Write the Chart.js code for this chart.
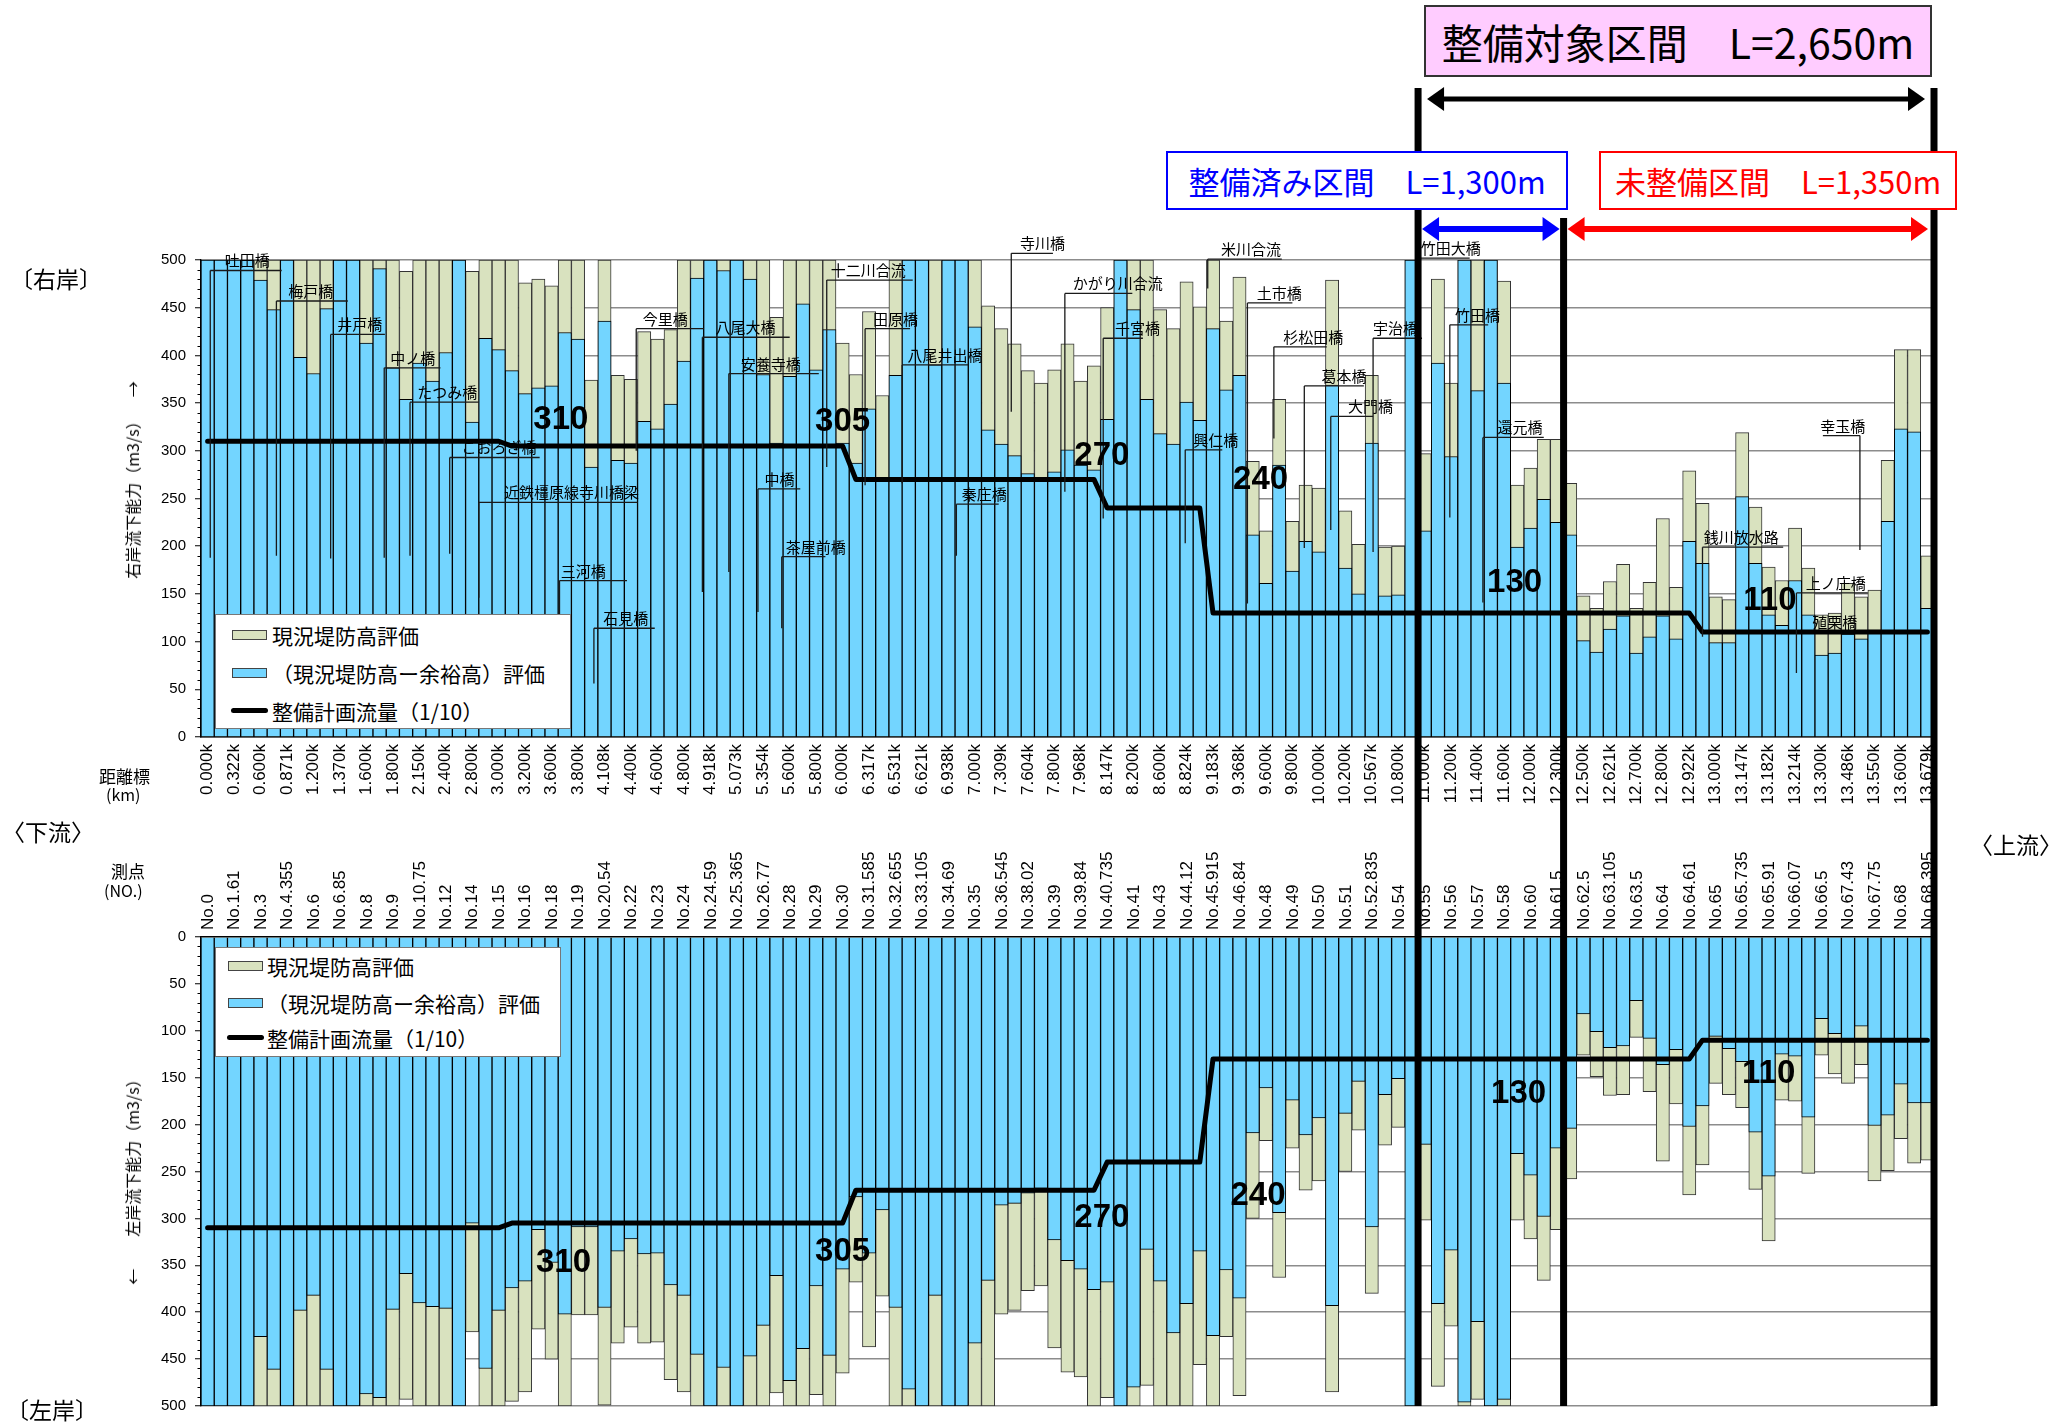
<!DOCTYPE html>
<html lang="ja">
<head>
<meta charset="utf-8">
<title>流下能力図</title>
<script src="https://cdn.jsdelivr.net/npm/chart.js@4.4.1/dist/chart.umd.min.js"></script>
<style>
  html, body { margin: 0; padding: 0; background: #fff; }
  #page { position: relative; width: 2065px; height: 1424px; overflow: hidden; background: #fff;
          font-family: "Noto Sans CJK JP", sans-serif; color: #000; }
  #page canvas { position: absolute; left: 0; top: 0; }
  .txt { position: absolute; white-space: nowrap; line-height: 1; }
  .rot { position: absolute; white-space: nowrap; line-height: 1; transform: translate(-50%, -50%) rotate(-90deg); font-size: 16px; }
  .legend { position: absolute; background: #fff; border: 1.5px solid #777; box-sizing: border-box; }
  .legend .row { position: absolute; left: 0; height: 24px; line-height: 24px; font-size: 21px; white-space: nowrap; }
  .legend .sw { position: absolute; width: 35px; height: 10px; box-sizing: border-box; border: 1px solid #444; }
  .legend .ln { position: absolute; width: 37px; height: 5px; background: #000; border-radius: 3px; }
  .hbox { position: absolute; box-sizing: border-box; display: flex; align-items: center; justify-content: center; white-space: nowrap; }
</style>
</head>
<body>
<div id="page">
  <canvas id="rightBank" width="2065" height="1424" style="width:2065px;height:1424px"></canvas>
  <canvas id="leftBank" width="2065" height="1424" style="width:2065px;height:1424px"></canvas>

  <!-- section headers -->
  <div class="hbox" style="left:1424px;top:5px;width:508px;height:72px;background:#ffccff;border:2.5px solid #333;font-size:41px;">整備対象区間　L=2,650m</div>
  <div class="hbox" style="left:1166px;top:151px;width:402px;height:59px;background:#fff;border:2px solid #0000ff;color:#0000ff;font-size:31px;">整備済み区間　L=1,300m</div>
  <div class="hbox" style="left:1599px;top:151px;width:358px;height:59px;background:#fff;border:2px solid #ff0000;color:#ff0000;font-size:31px;">未整備区間　L=1,350m</div>

  <!-- side captions -->
  <div class="txt" style="left:10px;top:267px;font-size:23px;">〔右岸〕</div>
  <div class="txt" style="left:6px;top:1398px;font-size:23px;">〔左岸〕</div>
  <div class="txt" style="left:2px;top:820px;font-size:23px;">〈下流〉</div>
  <div class="txt" style="left:1970px;top:833px;font-size:23px;">〈上流〉</div>
  <div class="rot" style="left:132px;top:480px;">右岸流下能力（m3/s）&emsp;→</div>
  <div class="rot" style="left:132px;top:1178px;">←&emsp;&emsp;左岸流下能力（m3/s）</div>
  <div class="txt" style="left:99px;top:767px;font-size:17px;">距離標</div>
  <div class="txt" style="left:106px;top:786px;font-size:16px;">(km)</div>
  <div class="txt" style="left:111px;top:862px;font-size:17px;">測点</div>
  <div class="txt" style="left:104px;top:882px;font-size:16px;">(NO.)</div>

  <!-- legends -->
  <div class="legend" style="left:215px;top:614px;width:356px;height:115px;">
    <div class="sw" style="left:16px;top:15px;background:#d9e2bf;"></div>
    <div class="row" style="left:56px;top:8px;">現況堤防高評価</div>
    <div class="sw" style="left:16px;top:53px;background:#73d5ff;"></div>
    <div class="row" style="left:56px;top:46px;">（現況堤防高ー余裕高）評価</div>
    <div class="ln" style="left:15px;top:93px;"></div>
    <div class="row" style="left:56px;top:84px;">整備計画流量（1/10）</div>
  </div>
  <div class="legend" style="left:215px;top:947px;width:346px;height:110px;">
    <div class="sw" style="left:12px;top:13px;background:#d9e2bf;"></div>
    <div class="row" style="left:51px;top:6px;">現況堤防高評価</div>
    <div class="sw" style="left:12px;top:50px;background:#73d5ff;"></div>
    <div class="row" style="left:51px;top:43px;">（現況堤防高ー余裕高）評価</div>
    <div class="ln" style="left:11px;top:87px;"></div>
    <div class="row" style="left:51px;top:78px;">整備計画流量（1/10）</div>
  </div>
</div>

<script>
// ---- distance marks (every other cross section is labelled) ----
const kmLabels = [
  '0.000k','0.322k','0.600k','0.871k','1.200k','1.370k','1.600k','1.800k','2.150k','2.400k','2.800k',
  '3.000k','3.200k','3.600k','3.800k','4.108k','4.400k','4.600k','4.800k','4.918k','5.073k','5.354k',
  '5.600k','5.800k','6.000k','6.317k','6.531k','6.621k','6.938k','7.000k','7.309k','7.604k','7.800k',
  '7.968k','8.147k','8.200k','8.600k','8.824k','9.183k','9.368k','9.600k','9.800k','10.000k','10.200k',
  '10.567k','10.800k','11.000k','11.200k','11.400k','11.600k','12.000k','12.300k','12.500k','12.621k',
  '12.700k','12.800k','12.922k','13.000k','13.147k','13.182k','13.214k','13.300k','13.486k','13.550k',
  '13.600k','13.679k'
];
const stationLabels = [
  'No.0','No.1.61','No.3','No.4.355','No.6','No.6.85','No.8','No.9','No.10.75','No.12','No.14',
  'No.15','No.16','No.18','No.19','No.20.54','No.22','No.23','No.24','No.24.59','No.25.365','No.26.77',
  'No.28','No.29','No.30','No.31.585','No.32.655','No.33.105','No.34.69','No.35','No.36.545','No.38.02','No.39',
  'No.39.84','No.40.735','No.41','No.43','No.44.12','No.45.915','No.46.84','No.48','No.49','No.50','No.51',
  'No.52.835','No.54','No.55','No.56','No.57','No.58','No.60','No.61.5','No.62.5','No.63.105',
  'No.63.5','No.64','No.64.61','No.65','No.65.735','No.65.91','No.66.07','No.66.5','No.67.43','No.67.75',
  'No.68','No.68.395'
];

// ---- right bank capacity (m3/s), one value per cross section ----
const rightBankHeight = [
  500,500,500,500,500,500,500,500,500,500, 500,500,500,500,500,488,500,500,500,500,
  488,500,500,500,476,480,473,500,500,374, 500,379,375,425,417,427,500,500,500,500,
  500,500,500,440,500,500,500,500,413,380, 446,358,500,500,500,500,500,500,500,452,
  428,412,384,371,385,412,373,389,450,500, 500,500,448,428,477,451,500,436,482,289,
  216,354,226,264,261,479,237,202,379,199, 200,500,297,480,371,500,500,500,478,264,
  282,312,312,266,148,135,163,181,135,162, 229,157,279,245,147,144,319,241,178,164,
  219,177,128,130,161,147,154,290,406,406, 190
];
const rightBankMargin = [
  500,500,500,500,479,448,500,398,381,449, 500,500,413,491,387,354,392,373,403,500,
  330,418,406,384,360,366,368,424,417,283, 436,290,287,331,323,349,394,481,500,489,
  500,480,380,308,378,454,385,427,308,287, 344,268,379,500,500,390,500,500,430,322,
  307,295,276,269,278,301,285,280,333,500, 448,354,318,307,351,332,428,364,379,212,
  161,285,174,205,194,369,177,150,308,148, 149,500,216,392,294,500,363,500,371,199,
  219,249,225,212,101, 89,113,127, 88,105, 127,103,205,182, 99, 99,252,182,128,117,
  164,128, 86, 88,108,103,112,226,323,320, 135
];

// ---- left bank capacity (m3/s) ----
const leftBankHeight = [
  500,500,500,500,500,500,500,500,500,500, 500,500,500,500,500,493,500,500,500,500,
  421,500,500,495,485,418,450,500,403,403, 499,433,416,433,432,472,485,500,500,500,
  500,500,500,486,500,500,488,500,465,368, 437,383,500,500,500,500,500,500,500,500,
  402,398,377,372,438,464,469,500,491,500, 500,478,500,500,500,456,500,426,489,300,
  217,363,225,270,260,485,250,206,380,222, 203,500,302,479,415,500,493,500,500,302,
  322,366,312,258,126,149,169,168,107,165, 239,178,275,243,156,168,182,269,324,174,
  175,252,126,146,156,136,260,249,215,241, 238
];
const leftBankMargin = [
  500,500,500,500,426,461,500,398,382,461, 500,500,487,491,397,359,390,394,396,500,
  305,460,398,374,367,312,347,402,309,309, 395,335,322,338,337,371,382,445,500,459,
  500,447,414,361,473,439,372,446,354,277, 337,291,395,482,500,382,500,500,433,366,
  286,284,273,268,323,345,354,376,368,500, 480,333,367,422,391,335,425,355,385,209,
  161,294,174,211,193,393,188,154,309,168, 151,500,221,391,334,496,410,500,493,231,
  254,298,225,204, 82,101,118,116, 68,108, 136,120,202,180,106,119,133,208,255,125,
  127,192, 87,103,112, 95,201,190,157,177, 177
];

// ---- planned design discharge (1/10) ----
const planFlow = [
  310,310,310,310,310,310,310,310,310,310, 310,310,310,310,310,310,310,310,310,310,
  310,310,310,305,305,305,305,305,305,305, 305,305,305,305,305,305,305,305,305,305,
  305,305,305,305,305,305,305,305,305,270, 270,270,270,270,270,270,270,270,270,270,
  270,270,270,270,270,270,270,270,240,240, 240,240,240,240,240,240,130,130,130,130,
  130,130,130,130,130,130,130,130,130,130, 130,130,130,130,130,130,130,130,130,130,
  130,130,130,130,130,130,130,130,130,130, 130,130,130,110,110,110,110,110,110,110,
  110,110,110,110,110,110,110,110,110,110, 110
];
const planFlowValues = [310, 305, 270, 240, 130, 110];

// bridges and confluences along the right bank: text, underline, leader line
const bridgeNotes = [
  {t:'吐田橋', tx:1.3, x1:0.2, x2:5.6, y:489, vx:0.2, vy:188},
  {t:'梅戸橋', tx:6.1, x1:5.2, x2:10.6, y:457, vx:5.2, vy:190},
  {t:'井戸橋', tx:9.8, x1:9.3, x2:13.4, y:422, vx:9.3, vy:187},
  {t:'中ノ橋', tx:13.8, x1:13.35, x2:17.6, y:387, vx:13.35, vy:188},
  {t:'たつみ橋', tx:15.85, x1:15.3, x2:20.5, y:351, vx:15.3, vy:190},
  {t:'こおろぎ橋', tx:19.2, x1:18.3, x2:25.1, y:293, vx:18.3, vy:192},
  {t:'近鉄橿原線寺川橋梁', tx:22.4, x1:20.5, x2:32.5, y:246, vx:20.5, vy:146},
  {t:'三河橋', tx:26.7, x1:26.6, x2:31.7, y:164, vx:26.6, vy:101},
  {t:'石見橋', tx:29.9, x1:29.2, x2:33.8, y:114, vx:29.2, vy:56},
  {t:'今里橋', tx:32.9, x1:32.4, x2:37.5, y:428, vx:32.4, vy:300},
  {t:'八尾大橋', tx:38.4, x1:37.4, x2:44.0, y:419, vx:37.4, vy:152},
  {t:'安養寺橋', tx:40.3, x1:39.4, x2:46.2, y:381, vx:39.4, vy:173},
  {t:'中橋', tx:42.1, x1:41.6, x2:44.8, y:260, vx:41.6, vy:131},
  {t:'茶屋前橋', tx:43.7, x1:43.4, x2:46.7, y:189, vx:43.4, vy:114},
  {t:'十二川合流', tx:47.1, x1:46.8, x2:53.3, y:479, vx:46.8, vy:283},
  {t:'田原橋', tx:50.3, x1:49.7, x2:53.1, y:428, vx:49.7, vy:264},
  {t:'八尾井出橋', tx:52.9, x1:52.5, x2:57.5, y:390, vx:52.5, vy:266},
  {t:'秦庄橋', tx:57.0, x1:56.6, x2:59.8, y:244, vx:56.6, vy:190},
  {t:'寺川橋', tx:61.4, x1:60.75, x2:63.9, y:507, vx:60.75, vy:341},
  {t:'かがり川合流', tx:65.4, x1:64.8, x2:69.9, y:465, vx:64.8, vy:257},
  {t:'千宮橋', tx:68.6, x1:67.7, x2:70.7, y:418, vx:67.7, vy:229},
  {t:'興仁橋', tx:74.5, x1:73.9, x2:76.7, y:301, vx:73.9, vy:203},
  {t:'米川合流', tx:76.6, x1:75.6, x2:81.2, y:501, vx:75.6, vy:470},
  {t:'土市橋', tx:79.3, x1:78.6, x2:82.0, y:455, vx:78.6, vy:140},
  {t:'杉松田橋', tx:81.3, x1:80.6, x2:84.6, y:409, vx:80.6, vy:313},
  {t:'葛本橋', tx:84.2, x1:82.9, x2:87.4, y:368, vx:82.9, vy:198},
  {t:'大門橋', tx:86.2, x1:84.9, x2:88.1, y:336, vx:84.9, vy:217},
  {t:'宇治橋', tx:88.1, x1:88.1, x2:91.8, y:418, vx:88.1, vy:194},
  {t:'竹田大橋', tx:91.7, x1:91.6, x2:95.4, y:502, vx:null, vy:null},
  {t:'竹田橋', tx:94.3, x1:93.9, x2:96.8, y:432, vx:93.9, vy:230},
  {t:'還元橋', tx:97.5, x1:96.4, x2:101.0, y:314, vx:96.4, vy:141},
  {t:'銭川放水路', tx:113.1, x1:113.0, x2:119.1, y:199, vx:113.0, vy:105},
  {t:'幸玉橋', tx:121.9, x1:122.1, x2:124.9, y:316, vx:124.9, vy:196},
  {t:'上ノ庄橋', tx:120.8, x1:120.1, x2:125.5, y:151, vx:120.1, vy:67},
  {t:'殖栗橋', tx:121.3, x1:121.3, x2:121.3, y:110, vx:null, vy:null}
];

// positions of the discharge figures, in category / m3/s units
const rightFlowTags = [[26.7,332],[48.0,330],[67.6,295],[79.6,269],[98.8,162],[118.1,143]];
const leftFlowTags  = [[26.9,347],[48.0,336],[67.6,300],[79.4,276],[99.1,167],[118.0,146]];

// section boundaries (between cross sections) of the improvement reach
const reachStart = 91.5, reachSplit = 102.5, reachEnd = 130.5;

const categories = Array.from({length: planFlow.length}, (_, i) => i);

// ---------- layout ----------
const PLOT_LEFT = 201, PLOT_RIGHT = 1934;
const Y_AXIS_W = 70, X_AXIS_H = 95;
const CANVAS_W = 2065, CANVAS_H = 1424;
const BLUE = '#73d5ff', GREEN = '#d9e2bf';

Chart.defaults.font.family = '"Liberation Sans", "Noto Sans CJK JP", sans-serif';
Chart.defaults.color = '#000';

const minorTicks = {
  id: 'minorTicks',
  afterDraw(chart) {
    const {ctx, scales: {y}} = chart;
    ctx.save();
    ctx.strokeStyle = '#000';
    ctx.lineWidth = 1;
    for (let v = 0; v <= 500; v += 10) {
      if (v % 50 === 0) continue;
      const py = Math.round(y.getPixelForValue(v)) + 0.5;
      ctx.beginPath();
      ctx.moveTo(y.right - 3.5, py);
      ctx.lineTo(y.right, py);
      ctx.stroke();
    }
    ctx.restore();
  }
};

function drawFlowTags(chart, tags) {
  const {ctx, scales: {x, y}} = chart;
  ctx.save();
  ctx.font = 'bold 33px "Liberation Sans", Arial, sans-serif';
  ctx.fillStyle = '#000';
  ctx.textAlign = 'center';
  ctx.textBaseline = 'middle';
  tags.forEach((p, i) => {
    ctx.fillText(String(planFlowValues[i]), x.getPixelForValue(p[0]), y.getPixelForValue(p[1]));
  });
  ctx.restore();
}

const rightNotes = {
  id: 'rightNotes',
  afterDatasetsDraw(chart) {
    const {ctx, scales: {x, y}} = chart;
    ctx.save();
    ctx.strokeStyle = '#1a1a1a';
    ctx.lineWidth = 1.3;
    ctx.fillStyle = '#000';
    ctx.font = '15px "Noto Sans CJK JP", sans-serif';
    ctx.textAlign = 'left';
    ctx.textBaseline = 'alphabetic';
    for (const n of bridgeNotes) {
      const yu = y.getPixelForValue(n.y);
      ctx.beginPath();
      if (n.x2 > n.x1) {
        ctx.moveTo(x.getPixelForValue(n.x1), yu);
        ctx.lineTo(x.getPixelForValue(n.x2), yu);
      }
      if (n.vx !== null) {
        const vx = x.getPixelForValue(n.vx);
        ctx.moveTo(vx, yu);
        ctx.lineTo(vx, y.getPixelForValue(n.vy));
      }
      ctx.stroke();
      ctx.fillText(n.t, x.getPixelForValue(n.tx), yu - 4);
    }
    ctx.restore();
    drawFlowTags(chart, rightFlowTags);
  }
};

function arrow(ctx, x1, x2, yy, color, w, hl, hw) {
  ctx.save();
  ctx.strokeStyle = color;
  ctx.fillStyle = color;
  ctx.lineWidth = w;
  ctx.beginPath();
  ctx.moveTo(x1 + hl - 2, yy);
  ctx.lineTo(x2 - hl + 2, yy);
  ctx.stroke();
  ctx.beginPath();
  ctx.moveTo(x1, yy); ctx.lineTo(x1 + hl, yy - hw); ctx.lineTo(x1 + hl, yy + hw); ctx.closePath();
  ctx.fill();
  ctx.beginPath();
  ctx.moveTo(x2, yy); ctx.lineTo(x2 - hl, yy - hw); ctx.lineTo(x2 - hl, yy + hw); ctx.closePath();
  ctx.fill();
  ctx.restore();
}

const leftNotes = {
  id: 'leftNotes',
  afterDatasetsDraw(chart) {
    drawFlowTags(chart, leftFlowTags);
  },
  afterDraw(chart) {
    // improvement reach: boundaries through both charts, with span arrows
    const {ctx, scales: {x, y}} = chart;
    const xa = x.getPixelForValue(reachStart);
    const xb = x.getPixelForValue(reachSplit);
    const xc = x.getPixelForValue(reachEnd);
    const yEnd = y.getPixelForValue(500);
    ctx.save();
    ctx.strokeStyle = '#000';
    ctx.lineWidth = 7;
    ctx.beginPath();
    ctx.moveTo(xa, 88); ctx.lineTo(xa, yEnd);
    ctx.moveTo(xc, 88); ctx.lineTo(xc, yEnd);
    ctx.moveTo(xb, 218); ctx.lineTo(xb, yEnd);
    ctx.stroke();
    ctx.restore();
    arrow(ctx, xa + 9, xc - 9, 99, '#000', 5, 17, 12);
    arrow(ctx, xa + 4, xb - 4, 229, '#0000ff', 6, 17, 12);
    arrow(ctx, xb + 4, xc - 6, 229, '#ff0000', 6, 17, 12);
  }
};

function makeChart(canvasId, heightData, marginData, reverse, padding, xPos, xLabels, labelShift, plugins) {
  return new Chart(document.getElementById(canvasId), {
    type: 'bar',
    data: {
      labels: categories,
      datasets: [
        { type: 'line', label: '整備計画流量（1/10）', data: planFlow, borderColor: '#000', borderWidth: 5,
          pointRadius: 0, tension: 0, borderCapStyle: 'round', borderJoinStyle: 'round', order: 0, clip: false },
        { label: '（現況堤防高ー余裕高）評価', data: marginData, backgroundColor: BLUE, borderColor: '#000',
          borderWidth: 1, grouped: false, categoryPercentage: 1, barPercentage: 1, order: 1 },
        { label: '現況堤防高評価', data: heightData, backgroundColor: GREEN, borderColor: '#333',
          borderWidth: 1, grouped: false, categoryPercentage: 1, barPercentage: 1, order: 2 }
      ]
    },
    options: {
      responsive: false,
      animation: false,
      events: [],
      layout: { padding },
      plugins: { legend: { display: false }, tooltip: { enabled: false }, title: { display: false } },
      scales: {
        x: {
          type: 'category',
          position: xPos,
          offset: true,
          grid: { display: false, drawTicks: false },
          border: { display: true, color: '#000', width: 1.5 },
          ticks: {
            autoSkip: false, maxRotation: 90, minRotation: 90, padding: 7, labelOffset: labelShift,
            font: { size: 17 }, color: '#000',
            callback: (v, i) => (i % 2 === 0 ? xLabels[i / 2] : '')
          },
          afterFit: s => { s.height = X_AXIS_H; }
        },
        y: {
          min: 0, max: 500, reverse,
          grid: { color: '#8c8c8c', lineWidth: 1.5, tickLength: 6, tickColor: '#000', tickWidth: 1 },
          border: { display: true, color: '#000', width: 1.5 },
          ticks: { stepSize: 50, padding: 9, font: { size: 15 }, color: '#000' },
          afterFit: s => { s.width = Y_AXIS_W; }
        }
      }
    },
    plugins
  });
}

const padL = PLOT_LEFT - Y_AXIS_W, padR = CANVAS_W - PLOT_RIGHT;
makeChart('rightBank', rightBankHeight, rightBankMargin, false,
  { left: padL, right: padR, top: 260, bottom: CANVAS_H - 737 - X_AXIS_H },
  'bottom', kmLabels, 0, [minorTicks, rightNotes]);
makeChart('leftBank', leftBankHeight, leftBankMargin, true,
  { left: padL, right: padR, top: 937 - X_AXIS_H, bottom: CANVAS_H - 1412 },
  'top', stationLabels, 21, [minorTicks, leftNotes]);
</script>
</body>
</html>
